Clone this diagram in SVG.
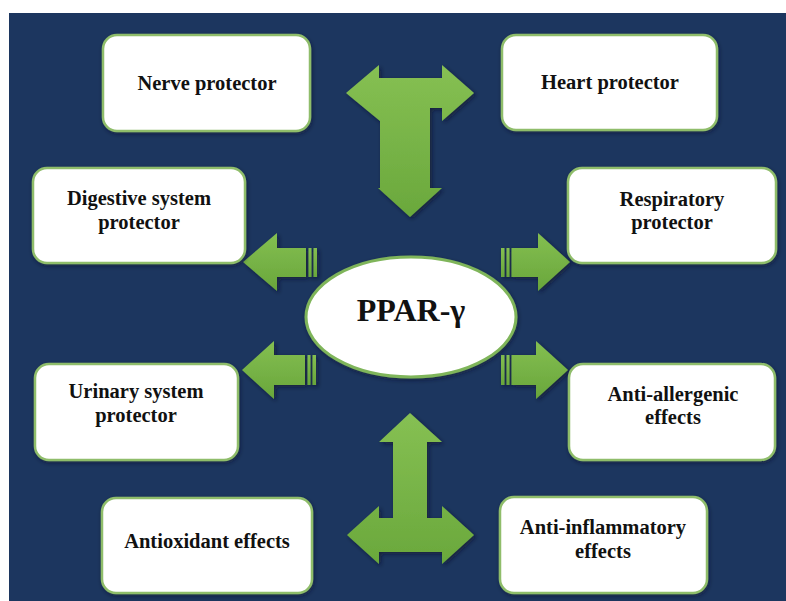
<svg xmlns="http://www.w3.org/2000/svg" width="786" height="601" viewBox="0 0 786 601">
<defs>
<linearGradient id="gv" x1="0" y1="0" x2="0" y2="1">
<stop offset="0" stop-color="#86c053"/>
<stop offset="1" stop-color="#6aa83c"/>
</linearGradient>
<linearGradient id="gh" x1="0" y1="0" x2="0" y2="1">
<stop offset="0" stop-color="#84bf51"/>
<stop offset="1" stop-color="#69a63b"/>
</linearGradient>
<filter id="sh" x="-20%" y="-20%" width="140%" height="140%">
<feDropShadow dx="2" dy="2" stdDeviation="2" flood-color="#0a1628" flood-opacity="0.6"/>
</filter>
<filter id="bsh" x="-10%" y="-10%" width="120%" height="120%">
<feDropShadow dx="1" dy="2" stdDeviation="2" flood-color="#0a1628" flood-opacity="0.5"/>
</filter>
</defs>
<style>
.bg{fill:#1c365f}
.box{fill:#ffffff;stroke:#8fbd6b;stroke-width:2.5;filter:url(#bsh)}
.inner{fill:none;stroke:#dcebcb;stroke-width:2}
.lbl{font-family:"Liberation Serif","Times New Roman",serif;font-weight:bold;font-size:20.5px;text-anchor:middle;fill:#111111}
.big{font-family:"Liberation Serif","Times New Roman",serif;font-weight:bold;font-size:32px;text-anchor:middle;fill:#111111}
.arr{fill:url(#gv);filter:url(#sh)}
.sarr{fill:url(#gh)}
</style>
<rect x="0" y="0" width="786" height="601" fill="#ffffff"/>
<rect class="bg" x="9" y="13" width="777" height="588"/>

<g id="connectors">
<path class="arr" d="M346,93 L379,65 L379,78 L442,78 L442,65 L474,93 L442,121 L442,108 L430,108 L430,188 L442,188 L410,217 L378,188 L380,188 L380,121 Z"/>
<path class="arr" d="M410,413 L442,442 L427,442 L427,518 L442,518 L442,506 L474,535 L442,564 L442,552 L379,552 L379,564 L347,535 L379,506 L379,518 L393,518 L393,442 L379,442 Z"/>
<g filter="url(#sh)">
<path class="sarr" d="M243,262 L277,233 L277,248 L306,248 L306,277 L277,277 L277,291 Z"/>
<rect class="sarr" x="308.5" y="248" width="3" height="29"/>
<rect class="sarr" x="313.5" y="248" width="3.5" height="29"/>
</g>
<g filter="url(#sh)">
<path class="sarr" d="M242,370 L274,341 L274,355 L305,355 L305,385 L274,385 L274,399 Z"/>
<rect class="sarr" x="307.5" y="355" width="3" height="30"/>
<rect class="sarr" x="312.5" y="355" width="3.5" height="30"/>
</g>
<g filter="url(#sh)">
<rect class="sarr" x="501" y="248" width="3.5" height="29"/>
<rect class="sarr" x="506.5" y="248" width="3" height="29"/>
<path class="sarr" d="M511.5,248 L538,248 L538,233 L570,262 L538,291 L538,277 L511.5,277 Z"/>
</g>
<g filter="url(#sh)">
<rect class="sarr" x="501" y="355" width="3.5" height="30"/>
<rect class="sarr" x="506.5" y="355" width="3" height="30"/>
<path class="sarr" d="M511.5,355 L536,355 L536,341 L568,370 L536,399 L536,385 L511.5,385 Z"/>
</g>
</g>

<g id="ppar">
<ellipse cx="411" cy="317" rx="105" ry="60" fill="#ffffff" stroke="#7fb55a" stroke-width="3" filter="url(#bsh)"/>
<text class="big" x="411" y="321">PPAR-γ</text>
</g>

<g id="nerve">
<rect class="box" x="103" y="35" width="207" height="96" rx="14"/>
<text class="lbl" x="207" y="90">Nerve protector</text>
</g>
<g id="heart">
<rect class="box" x="502" y="35" width="215" height="95" rx="14"/>
<text class="lbl" x="610" y="89">Heart protector</text>
</g>
<g id="digestive">
<rect class="box" x="33" y="168" width="212" height="95" rx="14"/>
<text class="lbl" x="139" y="205">Digestive system</text>
<text class="lbl" x="139" y="229">protector</text>
</g>
<g id="respiratory">
<rect class="box" x="568" y="168" width="208" height="95" rx="14"/>
<text class="lbl" x="672" y="206">Respiratory</text>
<text class="lbl" x="672" y="229">protector</text>
</g>
<g id="urinary">
<rect class="box" x="35" y="364" width="203" height="96" rx="14"/>
<text class="lbl" x="136" y="398">Urinary system</text>
<text class="lbl" x="136" y="422">protector</text>
</g>
<g id="antiallergenic">
<rect class="box" x="569" y="364" width="206" height="96" rx="14"/>
<text class="lbl" x="673" y="401">Anti-allergenic</text>
<text class="lbl" x="673" y="424">effects</text>
</g>
<g id="antioxidant">
<rect class="box" x="102" y="498" width="210" height="95" rx="14"/>
<text class="lbl" x="207" y="548">Antioxidant effects</text>
</g>
<g id="antiinflammatory">
<rect class="box" x="500" y="497" width="207" height="96" rx="14"/>
<text class="lbl" x="603" y="534">Anti-inflammatory</text>
<text class="lbl" x="603" y="558">effects</text>
</g>
</svg>
